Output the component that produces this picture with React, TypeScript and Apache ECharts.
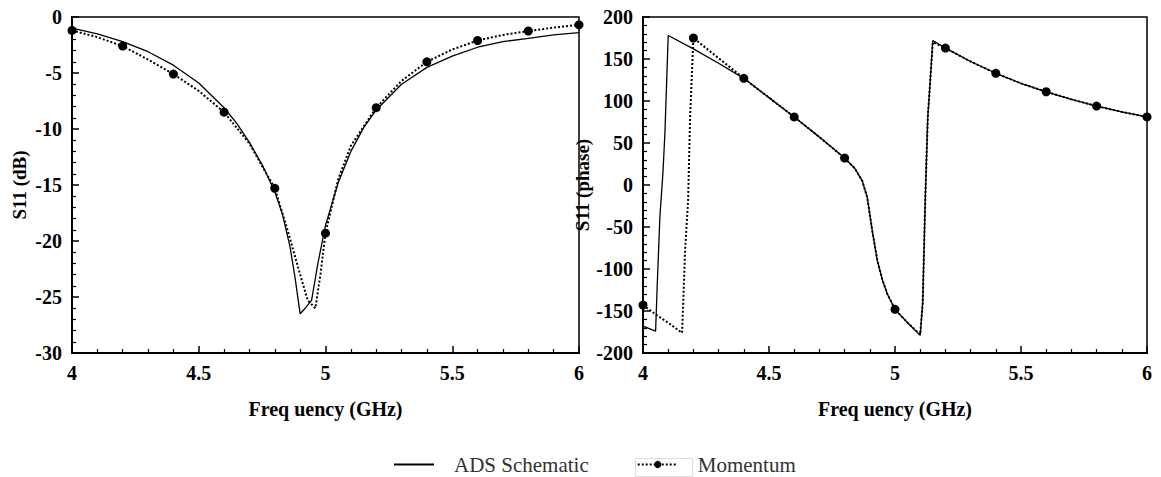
import React, { useEffect, useRef } from "react";
import * as echarts from "echarts";

// ---- Data ----
const freqTicks = [4, 4.5, 5, 5.5, 6];

const adsDbFreq = [4.0, 4.1, 4.2, 4.3, 4.4, 4.5, 4.6, 4.65, 4.7, 4.75, 4.8, 4.83, 4.86, 4.88, 4.9, 4.92, 4.945, 4.97, 5.0, 5.05, 5.1, 5.15, 5.2, 5.3, 5.4, 5.5, 5.6, 5.7, 5.8, 5.9, 6.0];
const adsDbVal = [-1.0, -1.5, -2.2, -3.1, -4.3, -5.9, -8.1, -9.5, -11.2, -13.2, -15.6, -17.6, -20.5, -23.3, -26.5, -26.0, -25.3, -22.0, -18.6, -14.8, -12.0, -9.9, -8.3, -6.0, -4.5, -3.5, -2.7, -2.2, -1.9, -1.6, -1.4];

const momentumDbFreq = [4.0, 4.1, 4.2, 4.3, 4.4, 4.5, 4.6, 4.7, 4.8, 4.85, 4.9, 4.93, 4.96, 4.98, 5.0, 5.05, 5.1, 5.2, 5.3, 5.4, 5.5, 5.6, 5.7, 5.8, 5.9, 6.0];
const momentumDbVal = [-1.2, -1.8, -2.6, -3.8, -5.1, -6.6, -8.5, -11.3, -15.3, -19.0, -23.0, -25.3, -26.0, -23.0, -19.3, -14.5, -11.5, -8.1, -5.7, -4.0, -2.9, -2.1, -1.6, -1.25, -0.95, -0.7];

const adsPhaseFreq = [4.0, 4.05, 4.056, 4.067, 4.079, 4.087, 4.1, 4.2, 4.3, 4.4, 4.5, 4.6, 4.7, 4.8, 4.84, 4.87, 4.89, 4.91, 4.93, 4.95, 4.97, 5.0, 5.05, 5.1, 5.11, 5.12, 5.13, 5.14, 5.15, 5.2, 5.3, 5.4, 5.5, 5.6, 5.7, 5.8, 5.9, 6.0];
const adsPhaseVal = [-168, -174, -123, -38, 14, 62, 178, 162, 145, 127, 104, 81, 57, 32, 20, 5, -15, -55, -90, -113, -130, -148, -164, -179, -140, -18, 80, 125, 172, 163, 147, 133, 121, 111, 102, 94, 87, 81];

const momentumPhaseFreq = [4.0, 4.05, 4.1, 4.155, 4.16, 4.167, 4.179, 4.187, 4.198, 4.2, 4.3, 4.4, 4.5, 4.6, 4.7, 4.8, 4.84, 4.87, 4.89, 4.91, 4.93, 4.95, 4.97, 5.0, 5.05, 5.1, 5.11, 5.12, 5.13, 5.14, 5.15, 5.2, 5.3, 5.4, 5.5, 5.6, 5.7, 5.8, 5.9, 6.0];
const momentumPhaseVal = [-143, -154, -164, -176, -137, -78, -18, 81, 161, 175, 151, 127, 104, 81, 57, 32, 20, 5, -15, -55, -90, -113, -130, -148, -164, -178, -140, -18, 80, 125, 170, 163, 147, 133, 121, 111, 102, 94, 87, 81];

const dotFreqs = [4.0, 4.2, 4.4, 4.6, 4.8, 5.0, 5.2, 5.4, 5.6, 5.8, 6.0];

const seriesNames = ["ADS Schematic", "Momentum"];

const FONT = "'Liberation Serif', 'Times New Roman', serif";

function pairs(xs: number[], ys: number[]) {
  return xs.map((x, i) => [x, ys[i]]);
}

export default function App() {
  const ref = useRef<HTMLDivElement>(null);
  useEffect(() => {
    if (!ref.current) return;
    const chart = echarts.init(ref.current, undefined, { renderer: "svg" });
    const isDot = (f: number) => dotFreqs.some((d) => Math.abs(d - f) < 1e-6);

    const xAxisBase = (gridIndex: number) => ({
      type: "value",
      gridIndex,
      min: 4,
      max: 6,
      interval: 0.5,
      name: "Freq uency (GHz)",
      nameLocation: "middle",
      nameGap: 46,
      nameTextStyle: { fontFamily: FONT, fontWeight: "bold", fontSize: 20, color: "#000" },
      axisLine: { show: true, onZero: false, lineStyle: { color: "#000", width: 2 } },
      axisTick: { show: true, inside: true, length: 7, lineStyle: { color: "#000", width: 1.5 } },
      minorTick: { show: true, splitNumber: 5, length: 4, lineStyle: { color: "#000", width: 1.2 } },
      splitLine: { show: false },
      axisLabel: {
        fontFamily: FONT, fontWeight: "bold", fontSize: 20, color: "#000", margin: 10,
        formatter: (v: number) => (freqTicks.includes(v) ? String(v) : ""),
      },
    });

    const yAxisBase = (gridIndex: number, min: number, max: number, interval: number, name: string, nameGap: number) => ({
      type: "value",
      gridIndex,
      min,
      max,
      interval,
      name,
      nameLocation: "middle",
      nameGap,
      nameTextStyle: { fontFamily: FONT, fontWeight: "bold", fontSize: 19, color: "#000" },
      axisLine: { show: true, onZero: false, lineStyle: { color: "#000", width: 2 } },
      axisTick: { show: true, inside: true, length: 7, lineStyle: { color: "#000", width: 1.5 } },
      minorTick: { show: true, splitNumber: 5, length: 4, lineStyle: { color: "#000", width: 1.2 } },
      splitLine: { show: false },
      axisLabel: { fontFamily: FONT, fontWeight: "bold", fontSize: 20, color: "#000", margin: 10 },
    });

    const adsStyle = { color: "#000", width: 1.3, type: "solid" };
    const momStyle = { color: "#000", width: 2, type: [2, 2] };
    const momSize = (v: number[]) => (isDot(v[0]) ? 9 : 0);

    chart.setOption({
      animation: false,
      backgroundColor: "#fff",
      grid: [
        { left: 72, top: 17, width: 507, height: 336, show: true, borderColor: "#000", borderWidth: 1.5, backgroundColor: "transparent" },
        { left: 643, top: 17, width: 504, height: 336, show: true, borderColor: "#000", borderWidth: 1.5, backgroundColor: "transparent" },
      ],
      xAxis: [xAxisBase(0), xAxisBase(1)],
      yAxis: [
        yAxisBase(0, -30, 0, 5, "S11 (dB)", 43),
        yAxisBase(1, -200, 200, 50, "S11 (phase)", 37),
      ],
      legend: {
        left: 393,
        top: 454,
        padding: 0,
        itemWidth: 40,
        itemHeight: 9,
        itemGap: 48,
        data: [
          { name: seriesNames[0], itemStyle: { opacity: 0 } },
          { name: seriesNames[1] },
        ],
        textStyle: { fontFamily: FONT, fontSize: 21, color: "#333", padding: [0, 0, 0, 15] },
      },
      graphic: [
        { type: "rect", left: 633, top: 456, shape: { width: 57, height: 18 }, style: { fill: "none", stroke: "#ddd", lineWidth: 1 }, silent: true },
      ],
      series: [
        {
          name: seriesNames[0], type: "line", xAxisIndex: 0, yAxisIndex: 0,
          data: pairs(adsDbFreq, adsDbVal), symbol: "none", lineStyle: adsStyle, itemStyle: { color: "#000" },
        },
        {
          name: seriesNames[1], type: "line", xAxisIndex: 0, yAxisIndex: 0,
          data: pairs(momentumDbFreq, momentumDbVal), symbol: "circle", symbolSize: momSize, showSymbol: true,
          lineStyle: momStyle, itemStyle: { color: "#000" },
        },
        {
          name: seriesNames[0], type: "line", xAxisIndex: 1, yAxisIndex: 1,
          data: pairs(adsPhaseFreq, adsPhaseVal), symbol: "none", lineStyle: adsStyle, itemStyle: { color: "#000" },
        },
        {
          name: seriesNames[1], type: "line", xAxisIndex: 1, yAxisIndex: 1,
          data: pairs(momentumPhaseFreq, momentumPhaseVal), symbol: "circle", symbolSize: momSize, showSymbol: true,
          lineStyle: momStyle, itemStyle: { color: "#000" },
        },
      ],
    });
    return () => chart.dispose();
  }, []);

  return (
    <div
      ref={ref}
      style={{ position: "fixed", left: 0, top: 0, width: 1161, height: 477, background: "#fff" }}
    />
  );
}
